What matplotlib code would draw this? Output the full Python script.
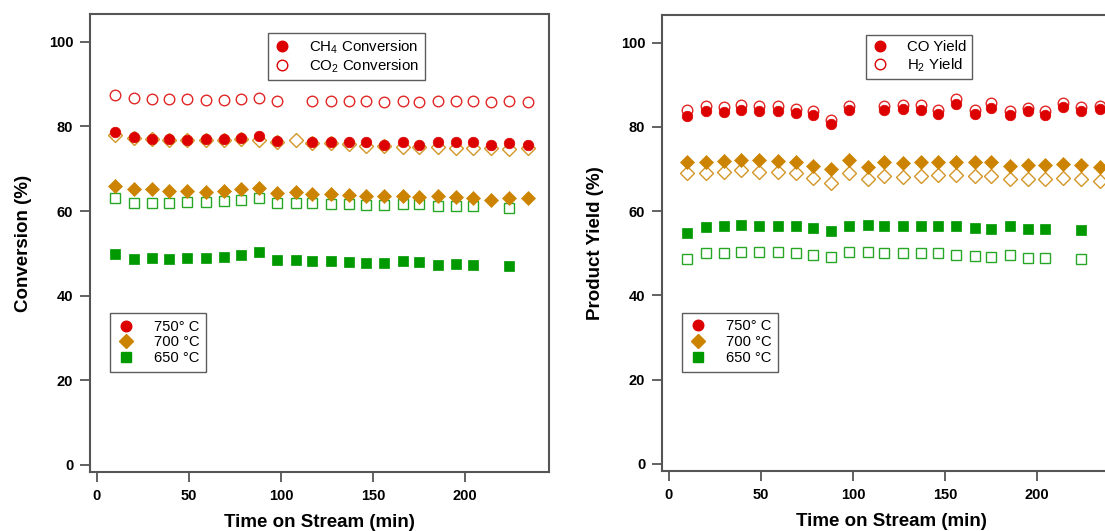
import matplotlib
matplotlib.use("Agg")
import matplotlib.pyplot as plt
from matplotlib.lines import Line2D
import numpy as np

plt.rcParams['font.family'] = ['Liberation Sans', 'DejaVu Sans']
plt.rcParams['mathtext.fontset'] = 'custom'
plt.rcParams['mathtext.rm'] = 'Liberation Sans'
plt.rcParams['mathtext.default'] = 'regular'

# time on stream (min)
time = [10, 20, 30, 39, 49, 59, 69, 78, 88, 98, 108, 117,
        127, 137, 146, 156, 166, 175, 185, 195, 204, 214, 224, 234]

# --- conversion (%) ; None = missing point ---
ch4_750 = [78.6, 77.4, 77.1, 77.0, 76.8, 77.0, 77.0, 77.3, 77.8, 76.5, None, 76.4,
           76.4, 76.4, 76.4, 75.6, 76.4, 75.6, 76.4, 76.4, 76.4, 75.7, 76.0, 75.6]
co2_750 = [87.5, 86.7, 86.4, 86.4, 86.4, 86.3, 86.3, 86.4, 86.7, 86.1, None, 86.1,
           86.0, 86.1, 86.1, 85.8, 86.1, 85.9, 86.1, 86.0, 86.1, 85.8, 86.0, 85.8]
ch4_700 = [66.0, 65.3, 65.3, 64.8, 64.8, 64.6, 64.8, 65.2, 65.4, 64.2, 64.6, 64.1,
           64.1, 63.8, 63.6, 63.6, 63.6, 63.3, 63.6, 63.3, 63.0, 62.6, 63.0, 63.0]
co2_700 = [78.0, 77.2, 77.1, 76.8, 76.8, 76.8, 76.8, 77.0, 76.8, 76.4, 76.8, 76.2,
           76.2, 75.9, 75.4, 75.4, 75.1, 75.1, 75.1, 74.9, 74.9, 74.9, 74.7, 74.9]
ch4_650 = [49.9, 48.6, 48.8, 48.6, 48.9, 48.9, 49.2, 49.6, 50.4, 48.5, 48.5, 48.3,
           48.1, 48.0, 47.8, 47.7, 48.1, 47.9, 47.3, 47.5, 47.3, None, 47.0, None]
co2_650 = [63.2, 61.9, 62.0, 61.9, 62.2, 62.2, 62.3, 62.6, 63.0, 62.0, 61.9, 61.9,
           61.7, 61.7, 61.5, 61.5, 61.7, 61.7, 61.1, 61.2, 61.1, None, 60.7, None]

# --- product yield (%) ---
co_750 = [82.5, 83.7, 83.5, 84.1, 83.7, 83.9, 83.3, 82.9, 80.7, 84.1, None, 84.1,
          84.3, 84.1, 83.1, 85.5, 83.1, 84.5, 82.9, 83.7, 82.9, 84.7, 83.7, 84.2]
h2_750 = [84.1, 84.9, 84.7, 85.3, 84.9, 85.0, 84.3, 83.9, 81.7, 85.0, None, 84.9,
          85.3, 85.3, 84.1, 86.6, 84.1, 85.7, 83.9, 84.5, 83.9, 85.7, 84.7, 84.9]
co_700 = [71.6, 71.6, 72.0, 72.2, 72.2, 72.0, 71.8, 70.8, 70.0, 72.2, 70.6, 71.6,
          71.4, 71.6, 71.6, 71.8, 71.8, 71.8, 70.8, 71.0, 71.0, 71.3, 71.0, 70.6]
h2_700 = [69.0, 69.0, 69.4, 69.7, 69.4, 69.4, 69.0, 67.9, 66.8, 69.0, 67.6, 68.3,
          68.1, 68.4, 68.6, 68.6, 68.4, 68.4, 67.6, 67.6, 67.6, 67.9, 67.6, 67.1]
co_650 = [54.9, 56.2, 56.4, 56.8, 56.6, 56.6, 56.4, 56.0, 55.2, 56.6, 56.8, 56.6,
          56.6, 56.6, 56.6, 56.4, 56.0, 55.8, 56.4, 55.8, 55.8, None, 55.6, None]
h2_650 = [48.7, 50.0, 50.0, 50.4, 50.2, 50.2, 50.0, 49.6, 49.1, 50.2, 50.4, 50.0,
          50.0, 50.0, 50.0, 49.6, 49.3, 49.1, 49.5, 48.9, 48.9, None, 48.6, None]

temps = ['750° C', '700 °C', '650 °C']
red, orange, green = '#dd0000', '#cc8400', '#009900'
styles = [('o', red, 7.6), ('D', orange, 7.6), ('s', green, 7.3)]


def scatter_pair(ax, filled, hollow, marker, color, ms):
    x = np.array(time, dtype=float)
    f = np.array([np.nan if v is None else v for v in filled])
    h = np.array([np.nan if v is None else v for v in hollow])
    ax.plot(x, h, linestyle='none', marker=marker, ms=ms, mfc='white',
            mec=color, mew=1.0, alpha=0.85, zorder=2)
    ax.plot(x, f, linestyle='none', marker=marker, ms=ms, mfc=color,
            mec=color, mew=0.5, zorder=3)


def style_axes(ax, ylabel):
    ax.set_xticks([0, 50, 100, 150, 200])
    ax.set_yticks([0, 20, 40, 60, 80, 100])
    ax.set_xlim(-3.8, 245.5)
    ax.set_ylim(-1.7, 106.6)
    for s in ax.spines.values():
        s.set_color('#555555')
        s.set_linewidth(1.5)
    ax.tick_params(direction='out', length=7, width=1.3, color='#555555',
                   labelsize=10.5, pad=5)
    for lab in ax.get_xticklabels() + ax.get_yticklabels():
        lab.set_fontweight('bold')
    ax.set_xlabel('Time on Stream (min)', fontsize=13.5, fontweight='bold',
                  labelpad=8)
    ax.set_ylabel(ylabel, fontsize=13.5, fontweight='bold', labelpad=12)


def temp_legend(ax):
    handles = [Line2D([], [], linestyle='none', marker=m, ms=ms, mfc=c, mec=c)
               for m, c, ms in styles]
    leg = ax.legend(handles, temps, loc='upper left', bbox_to_anchor=(0.044, 0.347),
                    borderaxespad=0, fontsize=10.6, frameon=True, fancybox=False,
                    edgecolor='#333333', handlelength=1.2, handletextpad=1.3,
                    labelspacing=0.12, borderpad=0.45)
    leg.get_frame().set_linewidth(1.0)
    return leg


def gas_legend(ax, labels, anchor):
    handles = [Line2D([], [], linestyle='none', marker='o', ms=7.6, mfc=red, mec=red),
               Line2D([], [], linestyle='none', marker='o', ms=7.6, mfc='white', mec=red)]
    leg = ax.legend(handles, labels, loc='upper left', bbox_to_anchor=anchor,
                    borderaxespad=0, fontsize=10.8, fancybox=False,
                    edgecolor='#333333', handlelength=1.2, handletextpad=1.2,
                    labelspacing=0.12, borderpad=0.35)
    leg.get_frame().set_linewidth(1.0)
    ax.add_artist(leg)


fig = plt.figure(figsize=(11.05, 5.31), dpi=100)
ax1 = fig.add_axes([90 / 1105, 59 / 531, 459 / 1105, 458 / 531])
ax2 = fig.add_axes([662 / 1105, 60 / 531, 459 / 1105, 456 / 531])

# conversion panel
scatter_pair(ax1, ch4_650, co2_650, 's', green, 7.3)
scatter_pair(ax1, ch4_700, co2_700, 'D', orange, 7.6)
scatter_pair(ax1, ch4_750, co2_750, 'o', red, 7.6)
style_axes(ax1, 'Conversion (%)')
gas_legend(ax1, ['CH$_4$ Conversion', 'CO$_2$ Conversion'], (0.388, 0.958))
temp_legend(ax1)

# yield panel
scatter_pair(ax2, co_650, h2_650, 's', green, 7.3)
scatter_pair(ax2, co_700, h2_700, 'D', orange, 7.6)
scatter_pair(ax2, co_750, h2_750, 'o', red, 7.6)
style_axes(ax2, 'Product Yield (%)')
gas_legend(ax2, ['CO Yield', 'H$_2$ Yield'], (0.444, 0.956))
temp_legend(ax2)

fig.savefig('out.png', dpi=100)
